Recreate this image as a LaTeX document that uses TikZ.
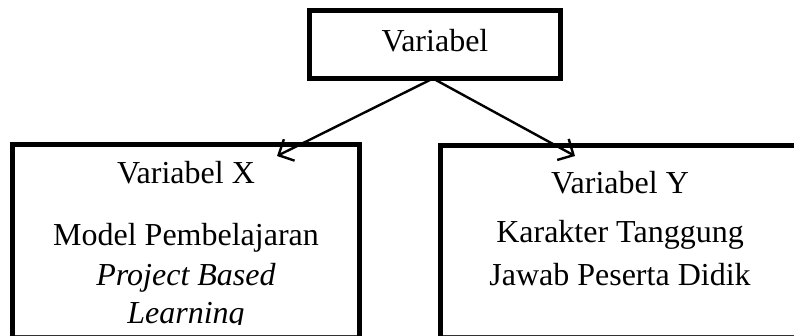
\documentclass[tikz,border=0pt]{standalone}
\usepackage{fontspec}
\setmainfont{Liberation Serif}
\usetikzlibrary{arrows.meta}
\begin{document}
\begin{tikzpicture}[x=1pt,y=-1pt,
  box/.style={draw,line width=4.5pt,inner sep=0pt,outer sep=0pt},
  lbl/.style={anchor=base,inner sep=0pt,font=\fontsize{32}{40}\selectfont},
  conn/.style={line width=2.4pt,-{Straight Barb[length=12pt,width=24pt,line width=2.4pt]}}]
\useasboundingbox (0,0) rectangle (794,336);
\clip (0,0) rectangle (794,336);
% top box
\node[box,minimum width=251pt,minimum height=68pt] (var) at (435,44.5) {};
\node[lbl] (varT) at (435,52) {Variabel};
% left box
\node[box,minimum width=347pt,minimum height=215.5pt] (bx) at (186,252.25) {};
\draw[line width=1pt,black!80] (15,335) -- (357,335);
\node[lbl] (xT1) at (186,184) {Variabel X};
\node[lbl] (xT2) at (186,246) {Model Pembelajaran};
\node[lbl] (xT3) at (186,285) {\itshape Project Based};
\begin{scope}
\clip (0,0) rectangle (794,324.5);
\node[lbl] (xT4) at (186,323) {\itshape Learning};
\end{scope}
% right box
\node[box,minimum width=369.5pt,minimum height=214.5pt] (by) at (625.25,252.75) {};
\draw[line width=1pt,black!80] (443,335) -- (794,335);
\node[lbl] (yT1) at (620,194) {Variabel Y};
\node[lbl] (yT2) at (620,243) {Karakter Tanggung};
\node[lbl] (yT3) at (620,285) {Jawab Peserta Didik};
% connectors
\coordinate (tipX) at (277,156);
\coordinate (tipY) at (575,156);
\draw[conn] (var.south) ++(-2,0) coordinate (src) -- (tipX);
\draw[conn] (src) -- (tipY);
\end{tikzpicture}
\end{document}
